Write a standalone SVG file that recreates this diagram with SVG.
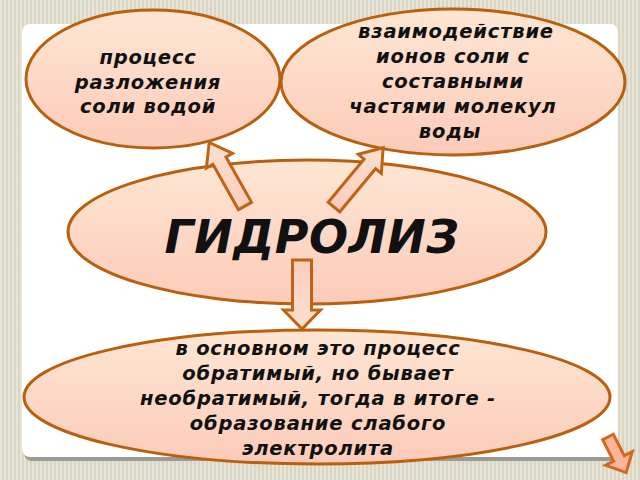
<svg xmlns="http://www.w3.org/2000/svg" width="640" height="480" viewBox="0 0 640 480">
<defs>
<pattern id="bgp" width="4" height="12" patternUnits="userSpaceOnUse">
<rect width="4" height="12" fill="#d9d6c6"/>
<rect x="0" width="2" height="12" fill="#e7e4d8"/>
<rect x="2" y="6" width="1" height="1" fill="#ccc8b6"/>
</pattern>
<linearGradient id="eg" x1="0" y1="0" x2="0" y2="1">
<stop offset="0" stop-color="#fde6d3"/>
<stop offset="1" stop-color="#fccbb9"/>
</linearGradient>
<linearGradient id="ag" x1="0" y1="0" x2="1" y2="0">
<stop offset="0" stop-color="#fbcdbd"/>
<stop offset="1" stop-color="#fde0cf"/>
</linearGradient>
<style>
.el{fill:url(#eg);stroke:#b8600f;stroke-width:3}
.ar{fill:url(#ag);stroke:#bf6414;stroke-width:3;stroke-linejoin:miter}
.t{font-family:"DejaVu Sans","Liberation Sans",sans-serif;font-weight:bold;font-style:italic;font-size:19.5px;fill:#111;text-anchor:middle;letter-spacing:0.8px}
.big{font-size:46px;letter-spacing:0.5px}
</style>
</defs>
<rect width="640" height="480" fill="url(#bgp)"/>
<rect x="24" y="28" width="594" height="433" rx="8" fill="#9a9a96"/>
<rect x="22" y="24" width="596" height="433" rx="8" fill="#ffffff"/>

<g id="node-process">
<ellipse class="el" cx="153" cy="79" rx="127" ry="69"/>
<text class="t" x="148" y="64">процесс</text>
<text class="t" x="148" y="89">разложения</text>
<text class="t" x="148" y="113">соли водой</text>
</g>
<g id="node-interaction">
<ellipse class="el" cx="453" cy="82" rx="172" ry="73"/>
<text class="t" x="456" y="38">взаимодействие</text>
<text class="t" x="453" y="63">ионов соли с</text>
<text class="t" x="453" y="88">составными</text>
<text class="t" x="453" y="113">частями молекул</text>
<text class="t" x="450" y="138">воды</text>
</g>
<g id="node-hydrolysis">
<ellipse class="el" cx="307" cy="232" rx="239" ry="72"/>
<text class="t big" x="312" y="253">ГИДРОЛИЗ</text>
</g>
<g id="node-reversible">
<ellipse class="el" cx="317" cy="397" rx="293" ry="67"/>
<text class="t" x="318" y="355">в основном это процесс</text>
<text class="t" x="318" y="380">обратимый, но бывает</text>
<text class="t" x="318" y="405">необратимый, тогда в итоге -</text>
<text class="t" x="318" y="430">образование слабого</text>
<text class="t" x="318" y="455">электролита</text>
</g>
<g id="connectors">
<path class="ar" d="M0,-7.5 L52,-7.5 L52,-15 L73,0 L52,15 L52,7.5 L0,7.5 Z" transform="translate(245,206) rotate(-119.4)"/>
<path class="ar" d="M0,-7.5 L56,-7.5 L56,-15 L77,0 L56,15 L56,7.5 L0,7.5 Z" transform="translate(334,207) rotate(-50.3)"/>
<path class="ar" d="M0,-9.5 L50,-9.5 L50,-18.5 L69,0 L50,18.5 L50,9.5 L0,9.5 Z" transform="translate(302,260) rotate(90)"/>
</g>
<g id="nav-arrow">
<path d="M0,-6 L24,-6 L24,-15 L40,0 L24,15 L24,6 L0,6 Z" fill="#fcb59c" stroke="#cf6a1e" stroke-width="3" transform="translate(608,437) rotate(63)"/>
</g>
</svg>
